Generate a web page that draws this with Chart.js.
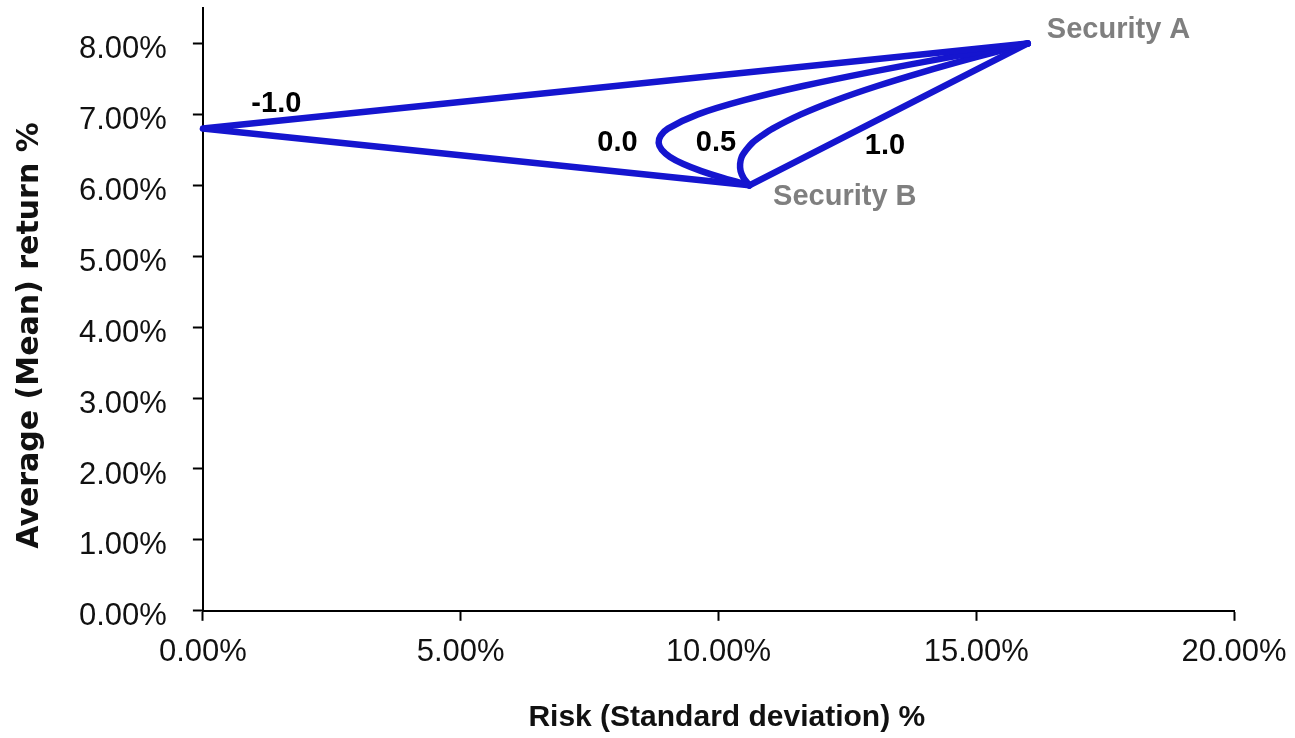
<!DOCTYPE html>
<html>
<head>
<meta charset="utf-8">
<script src="https://cdn.jsdelivr.net/npm/chart.js@4.4.1/dist/chart.umd.min.js"></script>
<style>
  body { margin: 0; background: #fff; }
</style>
</head>
<body>
<canvas id="frontier" width="1295" height="738"></canvas>
<script>
// risk (std dev, %) and mean return (%) of the two-asset portfolios, one pair per correlation
const returnsCurve = [6.0, 6.1, 6.2, 6.3, 6.4, 6.5, 6.6, 6.7, 6.8, 7.0, 7.2, 7.4, 7.6, 7.8, 8.0];

const riskRhoMinus1 = [10.6, 0.0, 16.0];
const retRhoMinus1 = [6.0, 6.8, 8.0];

const riskRho0 = [10.6, 10.10, 9.67, 9.32, 9.06, 8.90, 8.84, 8.88, 9.02, 9.60, 10.50, 11.64, 12.97, 14.44, 16.0];
const riskRho05 = [10.6, 10.49, 10.43, 10.42, 10.45, 10.54, 10.66, 10.84, 11.05, 11.60, 12.28, 13.08, 13.98, 14.96, 16.0];

const riskRho1 = [10.6, 16.0];
const retRho1 = [6.0, 8.0];

const xTicks = [0, 5, 10, 15, 20];
const yTicks = [0, 1, 2, 3, 4, 5, 6, 7, 8];

// text notes on the chart
const noteText = ['Security A', 'Security B', '-1.0', '0.0', '0.5', '1.0'];
const noteColor = ['#7f7f7f', '#7f7f7f', '#000', '#000', '#000', '#000'];
const noteAt = [[16.37, 8.08], [11.06, 5.72], [0.94, 7.04], [7.65, 6.49], [9.56, 6.49], [12.84, 6.44]];

const blue = '#1515cf';

function pts(xs, ys) {
    return xs.map((x, i) => ({ x: x, y: ys[i] }));
}

function lineSet(label, data, tension) {
    return {
        label: label,
        data: data,
        showLine: true,
        borderColor: blue,
        backgroundColor: blue,
        borderWidth: 6.5,
        borderCapStyle: 'round',
        borderJoinStyle: 'round',
        pointRadius: 0,
        pointHoverRadius: 0,
        tension: tension,
        clip: false
    };
}

const notesPlugin = {
    id: 'notes',
    afterDatasetsDraw(chart) {
        const ctx = chart.ctx;
        const xs = chart.scales.x, ys = chart.scales.y;
        ctx.save();
        ctx.textAlign = 'left';
        ctx.textBaseline = 'alphabetic';
        noteText.forEach((t, i) => {
            ctx.font = 'bold 29px "Liberation Sans", Arial, sans-serif';
            ctx.fillStyle = noteColor[i];
            ctx.fillText(t, xs.getPixelForValue(noteAt[i][0]), ys.getPixelForValue(noteAt[i][1]));
        });
        ctx.restore();
    }
};

const chart = new Chart(document.getElementById('frontier'), {
    type: 'scatter',
    data: {
        datasets: [
            lineSet('-1.0', pts(riskRhoMinus1, retRhoMinus1), 0),
            lineSet('0.0', pts(riskRho0, returnsCurve), 0.3),
            lineSet('0.5', pts(riskRho05, returnsCurve), 0.3),
            lineSet('1.0', pts(riskRho1, retRho1), 0)
        ]
    },
    options: {
        responsive: false,
        animation: false,
        events: [],
        layout: { padding: { left: 0, right: 61, top: 8, bottom: 0 } },
        plugins: {
            legend: { display: false },
            tooltip: { enabled: false }
        },
        scales: {
            x: {
                type: 'linear',
                min: 0,
                max: 20,
                afterBuildTicks: (s) => { s.ticks = xTicks.map(v => ({ value: v })); },
                afterFit: (s) => { s.paddingLeft = 0; s.paddingRight = 0; },
                ticks: {
                    callback: (v) => v.toFixed(2) + '%',
                    font: { family: '"Liberation Sans", Arial, sans-serif', size: 31 },
                    color: '#111',
                    padding: 13,
                    maxRotation: 0
                },
                grid: { drawOnChartArea: false, tickLength: 10, tickColor: '#000', tickWidth: 2 },
                border: { display: true, color: '#000', width: 2 },
                title: {
                    display: true,
                    text: '  Risk (Standard deviation) %',
                    font: { family: '"Liberation Sans", Arial, sans-serif', size: 30, weight: 'bold' },
                    color: '#111',
                    padding: { top: 16, bottom: 2 }
                }
            },
            y: {
                type: 'linear',
                min: 0,
                max: 8.5,
                afterBuildTicks: (s) => { s.ticks = yTicks.map(v => ({ value: v })); },
                afterFit: (s) => { s.paddingTop = 0; s.paddingBottom = 0; },
                ticks: {
                    callback: (v) => v.toFixed(2) + '%',
                    font: { family: '"Liberation Sans", Arial, sans-serif', size: 31 },
                    color: '#111',
                    padding: 26,
                    labelOffset: 6
                },
                grid: { drawOnChartArea: false, tickLength: 10, tickColor: '#000', tickWidth: 2 },
                border: { display: true, color: '#000', width: 2 },
                title: {
                    display: true,
                    text: 'Average (Mean) return %     ',
                    font: { family: '"DejaVu Sans", sans-serif', size: 30, weight: 'bold' },
                    color: '#111',
                    padding: { top: 12, bottom: 5 }
                }
            }
        }
    },
    plugins: [notesPlugin]
});
</script>
</body>
</html>
